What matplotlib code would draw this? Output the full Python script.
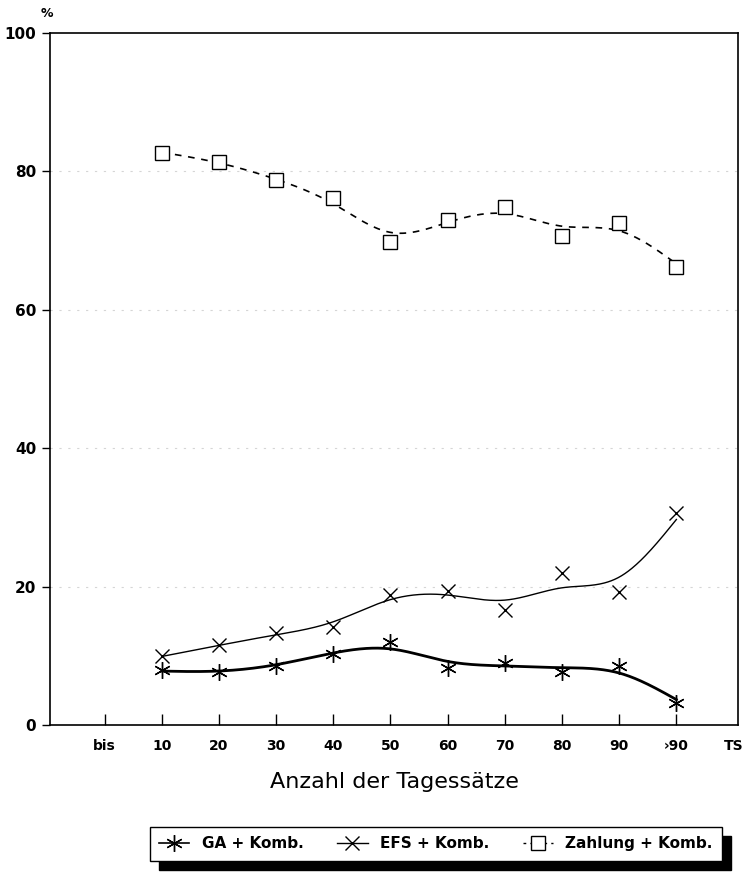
import numpy as np
import matplotlib
matplotlib.use("Agg")
import matplotlib.pyplot as plt
from matplotlib.patches import Rectangle

## Data (percent)
x_labels = ["bis", "10", "20", "30", "40", "50", "60", "70", "80", "90", "\u203a90", "TS"]
x_pos = np.arange(1, 11)  # 10 ... >90
ga_komb = [7.9, 7.7, 8.5, 10.3, 12.0, 8.2, 8.9, 7.7, 8.5, 3.2]
efs_komb = [9.9, 11.5, 13.3, 14.1, 18.8, 19.3, 16.6, 21.9, 19.2, 30.6]
zahlung_komb = [82.7, 81.3, 78.7, 76.2, 69.8, 73.0, 74.8, 70.7, 72.6, 66.2]


## smoothing spline (penalised least squares on a fine grid)
def smooth_curve(x, y, lam, step=0.02):
    grid = np.arange(x[0], x[-1] + step / 2, step)
    n = len(grid)
    w = np.zeros(n)
    z = np.zeros(n)
    idx = np.rint((np.asarray(x) - x[0]) / step).astype(int)
    w[idx] = 1.0
    z[idx] = y
    D = np.diff(np.eye(n), 2, axis=0)
    A = np.diag(w) + lam / step**3 * D.T @ D
    return grid, np.linalg.solve(A, w * z)


fig = plt.figure(figsize=(7.48, 8.82), dpi=100)
ax = fig.add_axes([0.0668, 0.178, 0.92, 0.7846])

# faint dotted grid lines
for yy in [20, 40, 60, 80]:
    ax.axhline(yy, color="#d5d5d5", lw=0.8, ls=(0, (2, 6)), zorder=0)

gx, gy = smooth_curve(x_pos, ga_komb, 0.1)
ax.plot(gx, gy, color="black", lw=2.0, zorder=3)
ax.plot(x_pos, ga_komb, ls="none", marker=(6, 2, 0), ms=12, mew=1.0,
        color="black", zorder=4)

ex, ey = smooth_curve(x_pos, efs_komb, 0.08)
ax.plot(ex, ey, color="black", lw=1.0, zorder=3)
ax.plot(x_pos, efs_komb, ls="none", marker="x", ms=10, mew=1.0,
        color="black", zorder=4)

zx, zy = smooth_curve(x_pos, zahlung_komb, 0.06)
ax.plot(zx, zy, color="black", lw=1.2, ls=(0, (4, 4)), zorder=3)
ax.plot(x_pos, zahlung_komb, ls="none", marker="s", ms=10, mew=1.0,
        mfc="white", mec="black", zorder=4)

ax.set_xlim(-0.955, 11.08)
ax.set_ylim(0, 100)
ax.set_yticks([0, 20, 40, 60, 80, 100])
ax.set_xticks(np.arange(0, 12))
ax.set_xticklabels(x_labels)
ax.tick_params(axis="y", direction="out", length=6, width=1, pad=4,
               labelsize=11)
ax.tick_params(axis="x", direction="in", length=8, width=1, pad=10,
               labelsize=10)
for lab in ax.get_yticklabels() + ax.get_xticklabels():
    lab.set_fontweight("bold")
ax.xaxis.get_major_ticks()[-1].tick1line.set_visible(False)
for sp in ax.spines.values():
    sp.set_linewidth(1.2)

fig.text(0.063, 0.985, "%", fontsize=9, fontweight="bold", ha="center", va="center")
ax.set_xlabel("Anzahl der Tagessätze", fontsize=16, labelpad=14)

## legend with a hard black shadow
h1, = ax.plot([], [], color="black", lw=1.2, marker=(6, 2, 0), ms=12)
h2, = ax.plot([], [], color="black", lw=1.0, marker="x", ms=10)
h3, = ax.plot([], [], color="black", lw=1.0, ls=(0, (2, 3)), marker="s",
              ms=10, mfc="white")
leg = fig.legend([h1, h2, h3], ["GA + Komb.", "EFS + Komb.", "Zahlung + Komb."],
                 loc="center", bbox_to_anchor=(0.5826, 0.0431), ncol=3,
                 frameon=True, fancybox=False, edgecolor="black", framealpha=1,
                 handlelength=2.0, columnspacing=2.2,
                 borderpad=0.6, prop={"weight": "bold", "size": 11})
leg.get_frame().set_linewidth(1.0)
leg.get_frame().set_facecolor("white")
leg.set_zorder(5)
fig.canvas.draw()
bb = leg.get_frame().get_window_extent().transformed(fig.transFigure.inverted())
off_x, off_y = 9 / 748, 9 / 882
fig.patches.append(Rectangle((bb.x0 + off_x, bb.y0 - off_y), bb.width, bb.height,
                             transform=fig.transFigure, facecolor="black",
                             edgecolor="black", zorder=1))

fig.savefig("out.png", dpi=100)
